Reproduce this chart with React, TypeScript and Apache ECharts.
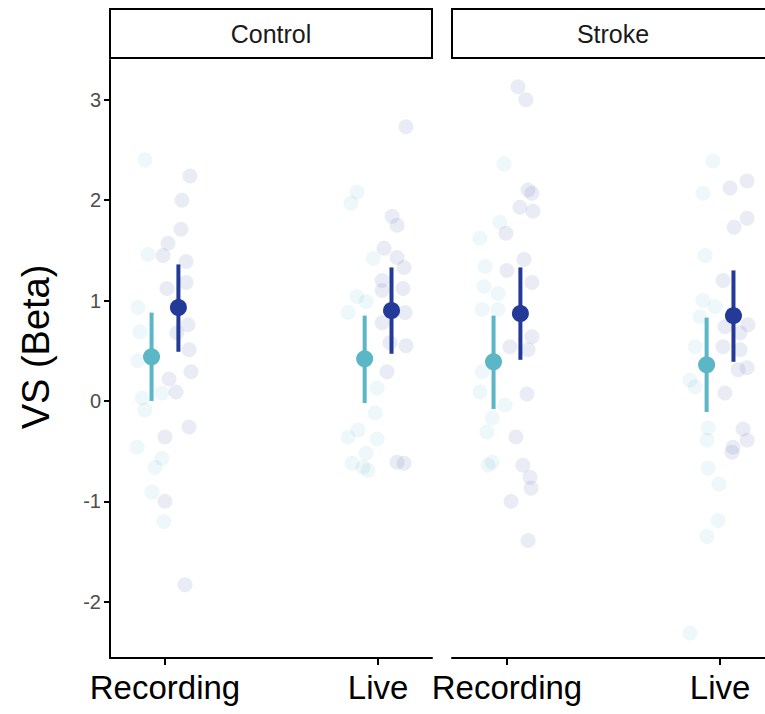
import React, { useEffect, useRef } from "react";
import * as echarts from "echarts";

// Facets and categories
const facets = ["Control", "Stroke"];
const categories = ["Recording", "Live"];
const yTicks = [-2, -1, 0, 1, 2, 3];

// Jittered individual points: [x jitter (category units), VS beta]
const controlRecTeal: [number, number][] = [
  [-0.094, 2.4], [-0.08, 1.46], [-0.127, 0.93], [-0.117, 0.69], [-0.127, 0.4], [-0.108, 0.03],
  [-0.094, -0.09], [-0.131, -0.46], [-0.014, -0.57], [-0.047, -0.66], [-0.061, -0.91], [-0.005, -1.2], [-0.014, 0.08],
];
const controlRecNavy: [number, number][] = [
  [0.117, 2.24], [0.08, 2.0], [0.075, 1.71], [0.014, 1.57], [-0.009, 1.45], [0.099, 1.39], [0.099, 1.18],
  [0.009, 1.12], [0.108, 0.76], [0.056, 0.68], [0.113, 0.51], [0.122, 0.29], [0.019, 0.22], [0.052, 0.09],
  [0.113, -0.26], [0.0, -0.36], [0.0, -1.0], [0.094, -1.83],
];
const controlLiveTeal: [number, number][] = [
  [-0.099, 2.08], [-0.127, 1.97], [-0.023, 1.42], [-0.099, 1.04], [-0.056, 0.99], [-0.141, 0.88],
  [-0.005, 0.13], [-0.014, -0.12], [-0.094, -0.29], [-0.141, -0.36], [-0.005, -0.38], [-0.056, -0.52],
  [-0.122, -0.62], [-0.07, -0.66], [-0.047, -0.69],
];
const controlLiveNavy: [number, number][] = [
  [0.131, 2.73], [0.066, 1.84], [0.089, 1.75], [0.028, 1.52], [0.089, 1.43], [0.122, 1.33], [0.019, 1.2],
  [0.117, 1.12], [0.019, 1.1], [0.127, 0.88], [0.019, 0.78], [0.056, 0.58], [0.131, 0.55], [0.042, 0.29],
  [0.089, -0.61], [0.122, -0.62],
];
const strokeRecTeal: [number, number][] = [
  [-0.014, 2.36], [-0.033, 1.78], [-0.127, 1.62], [-0.103, 1.34], [-0.108, 1.14], [-0.042, 1.07],
  [-0.117, 0.91], [-0.042, 0.91], [-0.117, 0.29], [-0.127, 0.09], [-0.009, -0.04], [-0.07, -0.17],
  [-0.094, -0.31], [-0.07, -0.61], [-0.089, -0.64],
];
const strokeRecNavy: [number, number][] = [
  [0.052, 3.13], [0.089, 3.0], [0.099, 2.1], [0.117, 2.07], [0.061, 1.93], [0.122, 1.89], [-0.005, 1.67],
  [0.08, 1.41], [0.0, 1.3], [0.117, 1.18], [0.117, 0.64], [0.014, 0.54], [0.099, 0.51], [0.094, 0.07],
  [0.042, -0.36], [0.075, -0.64], [0.108, -0.76], [0.113, -0.87], [0.019, -1.0], [0.099, -1.39],
];
const strokeLiveTeal: [number, number][] = [
  [-0.033, 2.39], [-0.08, 2.07], [-0.07, 1.45], [-0.08, 1.0], [-0.023, 0.94], [-0.094, 0.84],
  [-0.117, 0.54], [-0.141, 0.21], [-0.117, 0.14], [-0.056, -0.27], [-0.061, -0.39], [-0.056, -0.67],
  [-0.005, -0.83], [-0.009, -1.19], [-0.061, -1.35], [-0.141, -2.31],
];
const strokeLiveNavy: [number, number][] = [
  [0.127, 2.19], [0.047, 2.12], [0.127, 1.82], [0.066, 1.73], [0.014, 1.2], [0.131, 0.76], [0.023, 0.74],
  [0.094, 0.68], [0.094, 0.51], [0.014, 0.54], [0.127, 0.33], [0.085, 0.31], [0.023, 0.08], [0.108, -0.28],
  [0.127, -0.39], [0.061, -0.46], [0.056, -0.51],
];

// Means and intervals, per facet, per category [Recording, Live]
const controlTealMean = [0.44, 0.42];
const controlTealLow = [0.0, -0.02];
const controlTealHigh = [0.88, 0.85];
const controlNavyMean = [0.93, 0.9];
const controlNavyLow = [0.49, 0.47];
const controlNavyHigh = [1.36, 1.33];
const strokeTealMean = [0.39, 0.36];
const strokeTealLow = [-0.08, -0.11];
const strokeTealHigh = [0.85, 0.83];
const strokeNavyMean = [0.87, 0.85];
const strokeNavyLow = [0.41, 0.39];
const strokeNavyHigh = [1.33, 1.3];

const TEAL = "#5BB6C6";
const NAVY = "#233A99";
const TEAL_FAINT = "rgba(91,182,198,0.13)";
const NAVY_FAINT = "rgba(35,58,153,0.12)";
const DODGE = 0.063;
const FONT = "Liberation Sans, Arial, Helvetica, sans-serif";

function jitterData(cat: number, pts: [number, number][]) {
  return pts.map(([dx, y]) => [cat + dx, y]);
}

function barData(offset: number, low: number[], high: number[]) {
  return categories.map((_, i) => [i + 1 + offset, low[i], high[i]]);
}

function meanData(offset: number, mean: number[]) {
  return categories.map((_, i) => [i + 1 + offset, mean[i]]);
}

export default function App() {
  const ref = useRef<HTMLDivElement>(null);
  useEffect(() => {
    if (!ref.current) return;
    const chart = echarts.init(ref.current, null, { renderer: "svg" });

    const makeX = (gridIndex: number, max: number) => ({
      type: "value",
      gridIndex,
      min: 0.742,
      max,
      splitLine: { show: false },
      axisLine: { show: true, onZero: false, lineStyle: { color: "#000", width: 2 } },
      axisTick: { show: true, customValues: [1, 2], length: 7, lineStyle: { color: "#000", width: 2 } },
      axisLabel: {
        show: true,
        customValues: [1, 2],
        formatter: (v: number) => categories[Math.round(v) - 1] ?? "",
        fontSize: 33,
        color: "#000",
        fontFamily: FONT,
        margin: 13,
      },
    });
    const makeY = (gridIndex: number, showAxis: boolean) => ({
      type: "value",
      gridIndex,
      min: -2.56,
      max: 3.396,
      splitLine: { show: false },
      axisLine: { show: showAxis, onZero: false, lineStyle: { color: "#000", width: 2 } },
      axisTick: { show: showAxis, customValues: yTicks, length: 6, lineStyle: { color: "#000", width: 2 } },
      axisLabel: {
        show: showAxis,
        customValues: yTicks,
        fontSize: 20,
        color: "#4d4d4d",
        fontFamily: FONT,
        margin: 9,
      },
    });

    const errRender = (color: string) => (params: any, api: any) => {
      const x = api.value(0);
      const p1 = api.coord([x, api.value(1)]);
      const p2 = api.coord([x, api.value(2)]);
      return {
        type: "line",
        shape: { x1: p1[0], y1: p1[1], x2: p2[0], y2: p2[1] },
        style: { stroke: color, lineWidth: 4 },
      };
    };

    const facetSeries = (
      idx: number,
      recTeal: [number, number][],
      recNavy: [number, number][],
      liveTeal: [number, number][],
      liveNavy: [number, number][],
      tMean: number[], tLow: number[], tHigh: number[],
      nMean: number[], nLow: number[], nHigh: number[]
    ) => [
      {
        type: "scatter", xAxisIndex: idx, yAxisIndex: idx, symbolSize: 15, silent: true,
        itemStyle: { color: TEAL_FAINT },
        data: [...jitterData(1, recTeal), ...jitterData(2, liveTeal)], z: 1,
      },
      {
        type: "scatter", xAxisIndex: idx, yAxisIndex: idx, symbolSize: 15, silent: true,
        itemStyle: { color: NAVY_FAINT },
        data: [...jitterData(1, recNavy), ...jitterData(2, liveNavy)], z: 1,
      },
      {
        type: "custom", xAxisIndex: idx, yAxisIndex: idx, renderItem: errRender(TEAL),
        encode: { x: 0, y: [1, 2] }, data: barData(-DODGE, tLow, tHigh), z: 2,
      },
      {
        type: "custom", xAxisIndex: idx, yAxisIndex: idx, renderItem: errRender(NAVY),
        encode: { x: 0, y: [1, 2] }, data: barData(DODGE, nLow, nHigh), z: 2,
      },
      {
        type: "scatter", xAxisIndex: idx, yAxisIndex: idx, symbolSize: 17,
        itemStyle: { color: TEAL, opacity: 1 }, data: meanData(-DODGE, tMean), z: 3,
      },
      {
        type: "scatter", xAxisIndex: idx, yAxisIndex: idx, symbolSize: 17,
        itemStyle: { color: NAVY, opacity: 1 }, data: meanData(DODGE, nMean), z: 3,
      },
    ];

    chart.setOption({
      animation: false,
      backgroundColor: "#fff",
      grid: [
        { left: 110, top: 60, width: 322, height: 598 },
        { left: 452, top: 60, width: 313, height: 598 },
      ],
      xAxis: [makeX(0, 2.253), makeX(1, 2.211)],
      yAxis: [makeY(0, true), makeY(1, false)],
      series: [
        ...facetSeries(0, controlRecTeal, controlRecNavy, controlLiveTeal, controlLiveNavy,
          controlTealMean, controlTealLow, controlTealHigh, controlNavyMean, controlNavyLow, controlNavyHigh),
        ...facetSeries(1, strokeRecTeal, strokeRecNavy, strokeLiveTeal, strokeLiveNavy,
          strokeTealMean, strokeTealLow, strokeTealHigh, strokeNavyMean, strokeNavyLow, strokeNavyHigh),
      ],
      graphic: [
        {
          type: "rect", shape: { x: 110, y: 9, width: 322, height: 49 },
          style: { fill: "#fff", stroke: "#000", lineWidth: 2 },
        },
        {
          type: "rect", shape: { x: 452, y: 9, width: 322, height: 49 },
          style: { fill: "#fff", stroke: "#000", lineWidth: 2 },
        },
        {
          type: "text", x: 271, y: 34,
          style: { text: facets[0], fontSize: 25, fill: "#1a1a1a", fontFamily: FONT, align: "center", verticalAlign: "middle" },
        },
        {
          type: "text", x: 613, y: 34,
          style: { text: facets[1], fontSize: 25, fill: "#1a1a1a", fontFamily: FONT, align: "center", verticalAlign: "middle" },
        },
        {
          type: "text", x: 36, y: 347, rotation: Math.PI / 2,
          style: { text: "VS (Beta)", fontSize: 38, fill: "#000", fontFamily: FONT, align: "center", verticalAlign: "middle" },
        },
      ],
    });
    return () => chart.dispose();
  }, []);
  return (
    <div
      ref={ref}
      style={{ position: "fixed", left: 0, top: 0, width: 765, height: 714, background: "#fff" }}
    />
  );
}
